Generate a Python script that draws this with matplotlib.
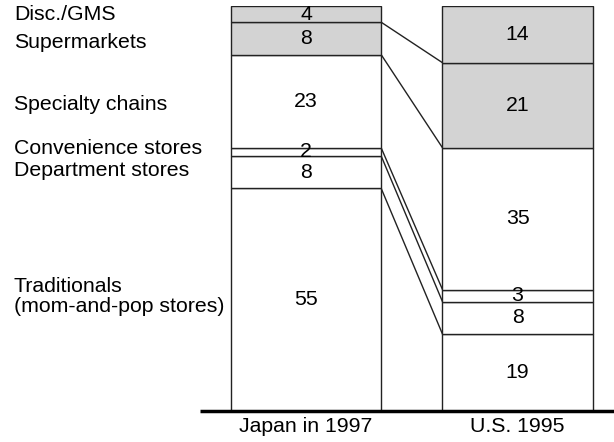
import matplotlib
matplotlib.use("Agg")
from matplotlib import pyplot as plt

plt.rcParams['font.family'] = ['Liberation Sans', 'DejaVu Sans']

# segments from bottom to top
categories = ['Traditionals\n(mom-and-pop stores)', 'Department stores', 'Convenience stores',
              'Specialty chains', 'Supermarkets', 'Disc./GMS']
japan = [55, 8, 2, 23, 8, 4]
us = [19, 8, 3, 35, 21, 14]
bar_labels = ['Japan in 1997', 'U.S. 1995']
japan_gray = [False, False, False, False, True, True]
us_gray = [False, False, False, False, True, True]
# y position (in data units) of the left-hand category labels
label_y = [28.3, 59.3, 64.9, 75.6, 90.9, 98.0]

gray = '#d3d3d3'
edge = '#222222'
fs = 15.3

fig = plt.figure(figsize=(6.14, 4.42), dpi=100)
ax = fig.add_axes([0, 31 / 442, 1, 405 / 442])
ax.set_xlim(-1.447, 1.456)
ax.set_ylim(0, 100)
ax.axis('off')

w = 0.71
xs = [0, 1]
for x, vals, grays in [(xs[0], japan, japan_gray), (xs[1], us, us_gray)]:
    bottom = 0
    for v, g in zip(vals, grays):
        ax.bar(x, v, width=w, bottom=bottom, color=gray if g else 'white',
               edgecolor=edge, linewidth=1.0, zorder=2)
        ax.text(x, bottom + v / 2, str(v), ha='center', va='center', fontsize=fs, zorder=3)
        bottom += v

# connecting lines between segment boundaries
cj = 0
cu = 0
for vj, vu in list(zip(japan, us))[:-1]:
    cj += vj
    cu += vu
    ax.plot([xs[0] + w / 2, xs[1] - w / 2], [cj, cu], color=edge, lw=1.0, zorder=1)

# baseline
ax.plot([-0.501, 1.456], [0, 0], color='black', lw=2.5, solid_capstyle='butt', zorder=4,
        clip_on=False)

# category labels
for c, y in zip(categories, label_y):
    ax.text(14 / 614, y, c, transform=ax.get_yaxis_transform(), ha='left', va='center',
            fontsize=fs, linespacing=1.1)

# bar labels
for x, t in zip(xs, bar_labels):
    ax.text(x, -3.95, t, ha='center', va='center', fontsize=fs, clip_on=False)

fig.savefig('out.png', dpi=100)
